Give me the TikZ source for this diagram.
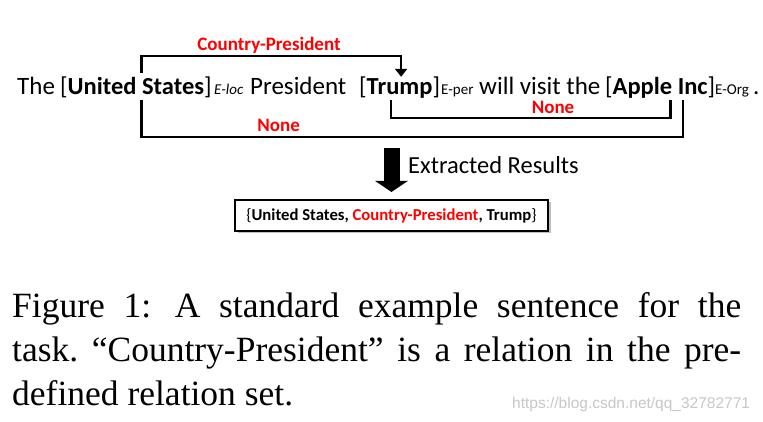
\documentclass[tikz,border=0pt]{standalone}
\usepackage{fontspec}
\usetikzlibrary{arrows.meta,shadows}

\newfontfamily\calfont{Carlito}
\newfontfamily\capfont{Liberation Serif}
\newfontfamily\wmfont{Liberation Sans}

\begin{document}
\begin{tikzpicture}[x=1pt,y=-1pt,>={Triangle[length=8pt,width=12pt]},
	word/.style={anchor=base west,inner sep=0pt,font=\calfont\fontsize{25}{28}\selectfont},
	entity/.style={word,font=\calfont\fontsize{24.5}{28}\selectfont,text height=17pt,text depth=5pt},
	tag/.style={anchor=base west,inner sep=0pt,font=\calfont\fontsize{15}{17}\selectfont},
	rel/.style={line width=2.5pt},
	rellabel/.style={anchor=base,inner sep=0pt,text=red,font=\calfont\bfseries\fontsize{19}{21}\selectfont},
	resbox/.style={draw,line width=2pt,fill=white,minimum width=313pt,minimum height=31pt,inner sep=0pt,
		text height=11pt,text depth=1pt,font=\calfont\bfseries\fontsize{16.7}{18}\selectfont,
		drop shadow={shadow xshift=2.5pt,shadow yshift=-2.5pt,fill=black!25,opacity=1}}]

\useasboundingbox (0,0) rectangle (763,422);

\def\base{95}

% the sentence
\node[word] (the) at (17,\base) {The};
\node[entity] (us) at (60,\base) {[\textbf{United States}]};
\node[tag,font=\calfont\itshape\fontsize{15}{17}\selectfont] (loc) at (214,\base) {E-loc};
\node[word] (pres) at (250,\base) {President};
\node[entity] (trump) at (359,\base) {[\textbf{Trump}]};
\node[tag] (per) at (441,\base) {E-per};
\node[word] (visit) at (479,\base) {will visit the};
\node[entity] (apple) at (605,\base) {[\textbf{Apple Inc}]};
\node[tag] (org) at (715,\base) {E-Org};
\node[word] (dot) at (753,\base) {.};

% relations
\draw[rel,->] ([xshift=5.5pt,yshift=5pt]us.north) -- ++(0,-17) -| ([xshift=1.5pt,yshift=1pt]trump.north);
\draw[rel] ([xshift=5.5pt]us.south) -- ++(0,37) -| ([xshift=23pt]apple.south);
\draw[rel] ([xshift=-8.5pt]trump.south) -- ++(0,18) -| ([xshift=10.5pt]apple.south);

\node[rellabel] (cp) at (269,50.5) {Country-President};
\node[rellabel] (nonein) at (553,114) {None};
\node[rellabel] (noneout) at (278.7,131.7) {None};

% extracted results
\coordinate (from) at (391.5,148);
\node[word,font=\calfont\fontsize{24.5}{28}\selectfont] (ext) at (408,173.3) {Extracted Results};
\node[resbox] (res) at (391.5,215.5) {{\mdseries\{}United States, \textcolor{red}{Country-President}, Trump{\mdseries\}}};
\draw[line width=16pt,-{Triangle[length=11pt,width=32pt]}] (from) -- ([yshift=7pt]res.north);

% caption
\node[anchor=base west,inner sep=0pt,font=\capfont\fontsize{35.5}{44}\selectfont] (caption) at (12,317)
	{\parbox[t]{729pt}{\sloppy\frenchspacing Figure 1:\hspace{5pt} A standard example sentence for the\linebreak
	task. “Country-President” is a relation in the pre-\linebreak
	defined relation set.}};

\node[anchor=base west,inner sep=0pt,text=black!22,font=\wmfont\fontsize{15.5}{17}\selectfont] (mark) at (512,408) {https://blog.csdn.net/qq\_32782771};

\end{tikzpicture}
\end{document}
